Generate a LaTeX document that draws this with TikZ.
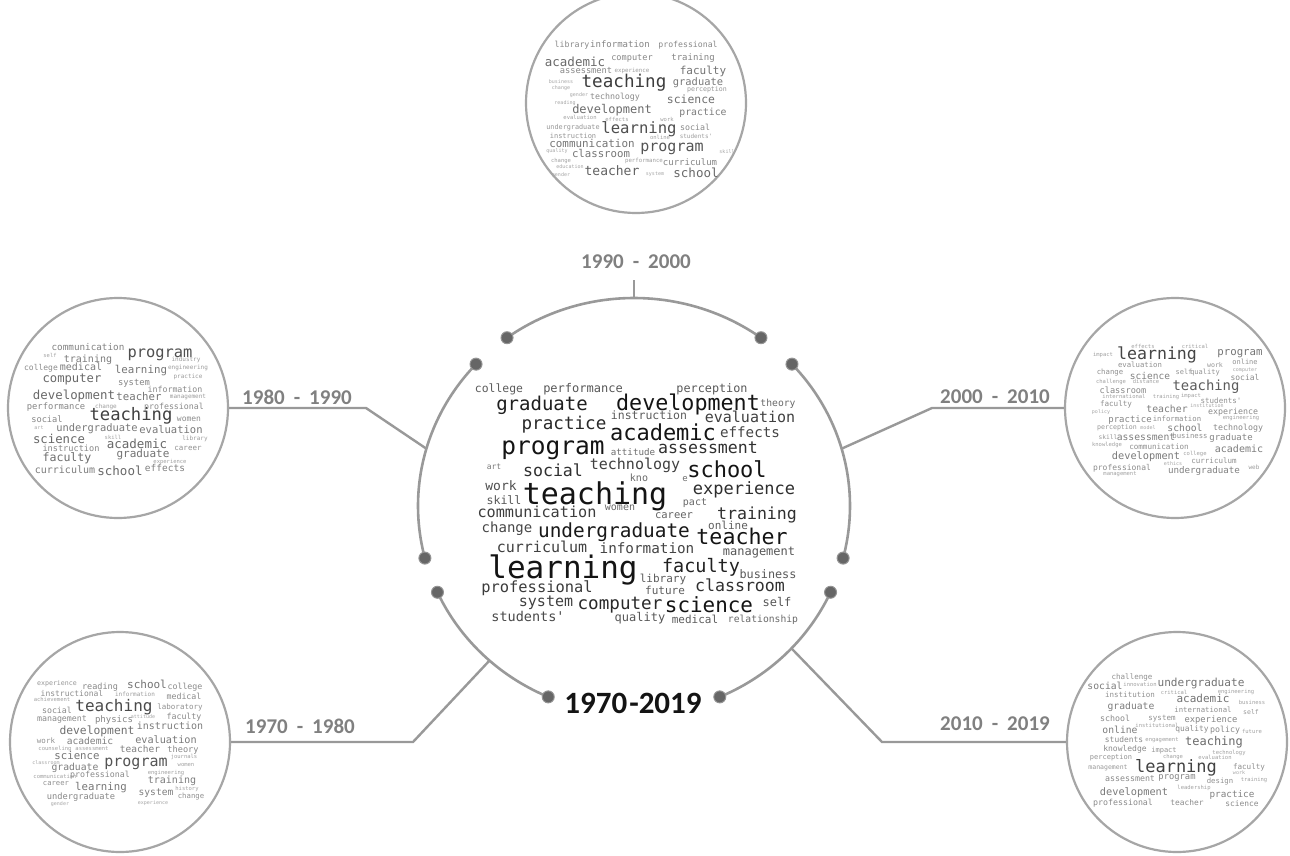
\documentclass[tikz,border=0pt]{standalone}
\usepackage{fontspec}
\newfontfamily\cloudfont{DejaVu Sans Mono}
\newfontfamily\labfont{Carlito}
\newcounter{wcn}
\def\cbase{25}
\newcommand{\WC}[4]{%
  \stepcounter{wcn}%
  \edef\wcname{w\arabic{wcn}}%
  \pgfmathsetmacro{\wcy}{#2+0.27*#3}%
  \pgfmathtruncatemacro{\wcg}{min(92,\cbase+3.2*#3)}%
  \node[cw, text=black!\wcg, font=\cloudfont\fontsize{#3}{#3}\selectfont] (\wcname) at (#1,\wcy) {#4};}
\begin{document}
\begin{tikzpicture}[x=1pt,y=-1pt,
  cw/.style={anchor=base, inner sep=0pt, outer sep=0pt},
  outer/.style={circle, draw=black!35, line width=2.2pt, minimum size=220pt, inner sep=0pt},
  ringline/.style={draw=black!40, line width=2.6pt},
  link/.style={draw=black!40, line width=2.4pt, line join=miter},
  dotnode/.style={circle, fill=black!60, draw=black!42, line width=1pt, minimum size=12pt, inner sep=0pt},
  lab/.style={font=\labfont\bfseries\fontsize{21}{21}\selectfont, text=black!50, inner sep=1pt},
  mainlab/.style={font=\labfont\bfseries\fontsize{31}{31}\selectfont, text=black!92, inner sep=1pt}]
\useasboundingbox (0,0) rectangle (1290,856);
\fill[white] (0,0) rectangle (1290,856);

% central ring
\coordinate (C) at (634,506);
\draw[ringline] plot[domain=-54:-126, samples=50] ({634+216*cos(\x)},{506+208*sin(\x)});
\draw[ringline] plot[domain=-137:-194.5, samples=50] ({634+216*cos(\x)},{506+208*sin(\x)});
\draw[ringline] plot[domain=-204.5:-246.6, samples=50] ({634+216*cos(\x)},{506+208*sin(\x)});
\draw[ringline] plot[domain=-293.4:-335.5, samples=50] ({634+216*cos(\x)},{506+208*sin(\x)});
\draw[ringline] plot[domain=14.5:-43, samples=50] ({634+216*cos(\x)},{506+208*sin(\x)});

% outer circles
\node[outer] (cT) at (636,103) {};
\node[outer] (cL) at (118,408) {};
\node[outer] (cR) at (1175,408) {};
\node[outer] (cBL) at (120,742) {};
\node[outer] (cBR) at (1177,742) {};

% connectors
\coordinate (rT) at ([shift={(-90:216 and 208)}]C);
\coordinate (rL) at ([shift={(-164:216 and 208)}]C);
\coordinate (rR) at ([shift={(-16:216 and 208)}]C);
\coordinate (rBL) at ([shift={(-228:216 and 208)}]C);
\coordinate (rBR) at ([shift={(43.2:216 and 208)}]C);
\coordinate (kT) at (634,280);
\coordinate (kL) at (366,408);
\coordinate (kR) at (932,408);
\coordinate (kBL) at (413,742);
\coordinate (kBR) at (882,742);
\draw[link] (kT) -- (rT);
\draw[link] (cL.east) -- (kL) -- (rL);
\draw[link] (cR.west) -- (kR) -- (rR);
\draw[link] (cBL.east) -- (kBL) -- (rBL);
\draw[link] (cBR.west) -- (kBR) -- (rBR);

% dots
\foreach \a/\n in {-54/d1,-126/d2,-137/d3,-194.5/d4,-204.5/d5,-246.6/d6,-293.4/d7,-335.5/d8,14.5/d9,-43/d10}
  \node[dotnode] (\n) at ([shift={(\a:216 and 208)}]C) {};

% labels
\node[lab] (lT) at (636,262) {1990\hspace{9pt}-\hspace{9pt}2000};
\node[lab] (lL) at (297,397) {1980\hspace{9pt}-\hspace{9pt}1990};
\node[lab] (lR) at (995,397) {2000\hspace{9pt}-\hspace{9pt}2010};
\node[lab] (lBL) at (300,726) {1970\hspace{9pt}-\hspace{9pt}1980};
\node[lab] (lBR) at (995,724) {2010\hspace{9pt}-\hspace{9pt}2019};
\node[mainlab] (lC) at (633,703) {1970\hspace{2pt}-2019};

% central cloud
\def\cbase{28}
\WC{499}{389}{11.4}{college}
\WC{583}{389}{12}{performance}
\WC{712}{389}{11.8}{perception}
\WC{542}{405}{19}{graduate}
\WC{688}{405}{21.7}{development}
\WC{778}{404}{9.7}{theory}
\WC{649}{416}{11.5}{instruction}
\WC{564}{425}{17.6}{practice}
\WC{750}{418}{15}{evaluation}
\WC{663}{435}{22}{academic}
\WC{750}{434}{14.2}{effects}
\WC{553}{448}{24.5}{program}
\WC{633}{453}{9.2}{attitude}
\WC{708}{449}{16.6}{assessment}
\WC{494}{467}{8}{art}
\WC{553}{472}{16.6}{social}
\WC{635}{465}{15}{technology}
\WC{727}{472}{22}{school}
\WC{639}{479}{10}{kno}
\WC{685}{479}{9}{e}
\WC{501}{487}{13}{work}
\WC{504}{501}{11.6}{skill}
\WC{595}{496}{30}{teaching}
\WC{744}{490}{17}{experience}
\WC{695}{503}{10}{pact}
\WC{537}{513}{15.2}{communication}
\WC{620}{508}{10}{women}
\WC{674}{516}{10.5}{career}
\WC{757}{515}{16.6}{training}
\WC{507}{529}{14}{change}
\WC{614}{532}{19.4}{undergraduate}
\WC{728}{527}{11}{online}
\WC{742}{539}{21.6}{teacher}
\WC{542}{548}{15}{curriculum}
\WC{647}{550}{14.3}{information}
\WC{759}{552}{12}{management}
\WC{563}{570}{31}{learning}
\WC{701}{567}{18.5}{faculty}
\WC{768}{575}{11.8}{business}
\WC{663}{580}{11}{library}
\WC{537}{588}{15.4}{professional}
\WC{665}{592}{11}{future}
\WC{740}{587}{16.6}{classroom}
\WC{546}{602}{15}{system}
\WC{620}{605}{17.6}{computer}
\WC{709}{607}{20.9}{science}
\WC{777}{603}{12}{self}
\WC{528}{618}{13.5}{students'}
\WC{640}{618}{12}{quality}
\WC{695}{621}{11}{medical}
\WC{763}{620}{9.7}{relationship}

% top cloud 1990-2000
\def\cbase{20}
\WC{572}{45}{8.3}{library}
\WC{620}{45}{9}{information}
\WC{688}{45}{8.2}{professional}
\WC{575}{63}{12.5}{academic}
\WC{632}{58}{8.6}{computer}
\WC{693}{58}{9}{training}
\WC{586}{71}{8.7}{assessment}
\WC{632}{71}{5.8}{experience}
\WC{703}{72}{11}{faculty}
\WC{561}{82}{5}{business}
\WC{561}{88}{5}{change}
\WC{624}{83}{17.6}{teaching}
\WC{698}{83}{10.4}{graduate}
\WC{615}{97}{8.3}{technology}
\WC{707}{90}{6.6}{perception}
\WC{579}{95}{5}{gender}
\WC{691}{100}{11.4}{science}
\WC{565}{103}{5}{reading}
\WC{612}{110}{12}{development}
\WC{703}{113}{9.8}{practice}
\WC{580}{118}{5.5}{evaluation}
\WC{617}{120}{5.5}{effects}
\WC{667}{120}{5.5}{work}
\WC{573}{128}{6.8}{undergraduate}
\WC{639}{129}{15.6}{learning}
\WC{695}{128}{8.3}{social}
\WC{573}{137}{7}{instruction}
\WC{696}{137}{6}{students'}
\WC{660}{138}{5.5}{online}
\WC{592}{145}{10.9}{communication}
\WC{672}{147}{15}{program}
\WC{601}{155}{10.7}{classroom}
\WC{557}{151}{5}{quality}
\WC{727}{152}{5}{skill}
\WC{561}{161}{5.5}{change}
\WC{644}{161}{5.7}{performance}
\WC{690}{163}{9}{curriculum}
\WC{570}{167}{5}{education}
\WC{612}{172}{13}{teacher}
\WC{696}{174}{12.5}{school}
\WC{561}{175}{5}{gender}
\WC{655}{174}{5}{system}

% left cloud 1980-1990
\WC{88}{348}{9.3}{communication}
\WC{160}{353}{15.4}{program}
\WC{50}{356}{5.4}{self}
\WC{88}{360}{10}{training}
\WC{186}{360}{6}{industry}
\WC{41}{368}{8}{college}
\WC{81}{368}{10}{medical}
\WC{141}{371}{10.8}{learning}
\WC{188}{368}{6}{engineering}
\WC{72}{379}{12.2}{computer}
\WC{134}{383}{8.8}{system}
\WC{188}{377}{6}{practice}
\WC{74}{396}{12.4}{development}
\WC{139}{398}{10.7}{teacher}
\WC{175}{390}{8.3}{information}
\WC{56}{407}{8.8}{performance}
\WC{106}{407}{6}{change}
\WC{174}{407}{8.3}{professional}
\WC{188}{397}{6}{management}
\WC{131}{416}{17.2}{teaching}
\WC{189}{419}{8}{women}
\WC{47}{420}{8.7}{social}
\WC{39}{428}{5}{art}
\WC{97}{429}{10.4}{undergraduate}
\WC{171}{431}{10.5}{evaluation}
\WC{113}{438}{5.5}{skill}
\WC{195}{439}{6}{library}
\WC{59}{440}{12.3}{science}
\WC{137}{445}{12.5}{academic}
\WC{71}{449}{8.6}{instruction}
\WC{188}{448}{7.5}{career}
\WC{67}{458}{11.6}{faculty}
\WC{143}{455}{11}{graduate}
\WC{170}{462}{5.5}{experience}
\WC{65}{471}{10}{curriculum}
\WC{120}{472}{12.5}{school}
\WC{165}{469}{9.5}{effects}

% right cloud 2000-2010
\WC{1143}{347}{5.5}{effects}
\WC{1195}{347}{5.5}{critical}
\WC{1103}{355}{5.5}{impact}
\WC{1157}{355}{16.6}{learning}
\WC{1240}{353}{10.7}{program}
\WC{1140}{366}{7.3}{evaluation}
\WC{1215}{366}{6.6}{work}
\WC{1245}{363}{7}{online}
\WC{1245}{370}{5}{computer}
\WC{1110}{373}{7.3}{change}
\WC{1150}{377}{9.5}{science}
\WC{1184}{373}{7}{self}
\WC{1205}{373}{7}{quality}
\WC{1245}{378}{8}{social}
\WC{1111}{382}{5.5}{challenge}
\WC{1146}{382}{5.5}{distance}
\WC{1206}{387}{13.9}{teaching}
\WC{1123}{391}{8.6}{classroom}
\WC{1124}{397}{5.5}{international}
\WC{1166}{397}{5.5}{training}
\WC{1191}{396}{5.5}{impact}
\WC{1221}{401}{7.5}{students'}
\WC{1116}{404}{7.6}{faculty}
\WC{1101}{412}{5}{policy}
\WC{1167}{410}{9.8}{teacher}
\WC{1207}{406}{5}{institution}
\WC{1233}{412}{8.3}{experience}
\WC{1130}{420}{9}{practice}
\WC{1177}{420}{7.3}{information}
\WC{1241}{418}{5.5}{engineering}
\WC{1117}{428}{6.6}{perception}
\WC{1148}{428}{5}{model}
\WC{1185}{429}{9.7}{school}
\WC{1238}{428}{8.3}{technology}
\WC{1108}{438}{6.3}{skill}
\WC{1146}{438}{9.7}{assessment}
\WC{1190}{437}{7.3}{business}
\WC{1231}{438}{9}{graduate}
\WC{1107}{445}{5.5}{knowledge}
\WC{1159}{447}{7.6}{communication}
\WC{1239}{450}{10}{academic}
\WC{1146}{457}{10.3}{development}
\WC{1195}{454}{5.5}{college}
\WC{1214}{461}{7.5}{curriculum}
\WC{1173}{464}{5}{ethics}
\WC{1122}{468}{8}{professional}
\WC{1120}{474}{5.5}{management}
\WC{1204}{471}{9.2}{undergraduate}
\WC{1254}{468}{6}{web}

% bottom-left cloud 1970-1980
\WC{57}{684}{6.6}{experience}
\WC{100}{687}{8.5}{reading}
\WC{147}{686}{11}{school}
\WC{185}{687}{8.3}{college}
\WC{72}{694}{8}{instructional}
\WC{135}{695}{6}{information}
\WC{184}{697}{8.3}{medical}
\WC{52}{700}{5.5}{achievement}
\WC{114}{707}{16}{teaching}
\WC{180}{707}{7.5}{laboratory}
\WC{57}{711}{8.3}{social}
\WC{62}{719}{8.3}{management}
\WC{114}{720}{9}{physics}
\WC{143}{717}{5}{attitude}
\WC{184}{717}{8.3}{faculty}
\WC{97}{731}{11.3}{development}
\WC{170}{727}{10}{instruction}
\WC{46}{741}{7.5}{work}
\WC{90}{742}{9.6}{academic}
\WC{166}{741}{10.2}{evaluation}
\WC{55}{749}{5.5}{counseling}
\WC{92}{749}{5.5}{assessment}
\WC{140}{750}{9.5}{teacher}
\WC{183}{750}{8.6}{theory}
\WC{77}{757}{10.7}{science}
\WC{136}{762}{15}{program}
\WC{184}{757}{5.5}{journals}
\WC{46}{763}{5}{classroom}
\WC{75}{768}{9.7}{graduate}
\WC{186}{765}{5.5}{women}
\WC{166}{773}{5.5}{engineering}
\WC{100}{775}{8.3}{professional}
\WC{55}{777}{5.5}{communication}
\WC{172}{781}{10}{training}
\WC{56}{784}{7.2}{career}
\WC{101}{788}{10.7}{learning}
\WC{187}{789}{5.5}{history}
\WC{156}{793}{9.6}{system}
\WC{81}{797}{8.7}{undergraduate}
\WC{191}{797}{7.3}{change}
\WC{153}{803}{5}{experience}
\WC{60}{804}{5}{gender}

% bottom-right cloud 2010-2019
\WC{1132}{677}{7.5}{challenge}
\WC{1201}{683}{11.1}{undergraduate}
\WC{1105}{687}{9.7}{social}
\WC{1140}{685}{5.5}{innovation}
\WC{1174}{693}{5.5}{critical}
\WC{1236}{692}{5.5}{engineering}
\WC{1130}{695}{7.5}{institution}
\WC{1203}{700}{11}{academic}
\WC{1252}{703}{5.5}{business}
\WC{1131}{707}{9.7}{graduate}
\WC{1203}{711}{7.3}{international}
\WC{1251}{713}{6.5}{self}
\WC{1115}{719}{8.3}{school}
\WC{1162}{718}{7.5}{system}
\WC{1211}{720}{8.8}{experience}
\WC{1120}{731}{9.7}{online}
\WC{1157}{726}{5.5}{institutional}
\WC{1192}{729}{7.9}{quality}
\WC{1225}{730}{8.3}{policy}
\WC{1252}{732}{5.5}{future}
\WC{1124}{740}{7.9}{students}
\WC{1162}{740}{5.5}{engagement}
\WC{1214}{742}{12}{teaching}
\WC{1125}{749}{8}{knowledge}
\WC{1164}{751}{7}{impact}
\WC{1229}{753}{5.5}{technology}
\WC{1111}{758}{7}{perception}
\WC{1173}{757}{5.5}{change}
\WC{1215}{758}{5.5}{evaluation}
\WC{1108}{768}{6.5}{management}
\WC{1176}{768}{17}{learning}
\WC{1249}{767}{7.6}{faculty}
\WC{1239}{773}{5}{work}
\WC{1254}{780}{5.5}{training}
\WC{1130}{779}{8.3}{assessment}
\WC{1177}{777}{8.8}{program}
\WC{1220}{782}{7.3}{design}
\WC{1194}{788}{5.5}{leadership}
\WC{1134}{793}{10.3}{development}
\WC{1232}{795}{9.3}{practice}
\WC{1123}{803}{8.3}{professional}
\WC{1187}{803}{7.9}{teacher}
\WC{1242}{804}{7.9}{science}
\end{tikzpicture}
\end{document}
